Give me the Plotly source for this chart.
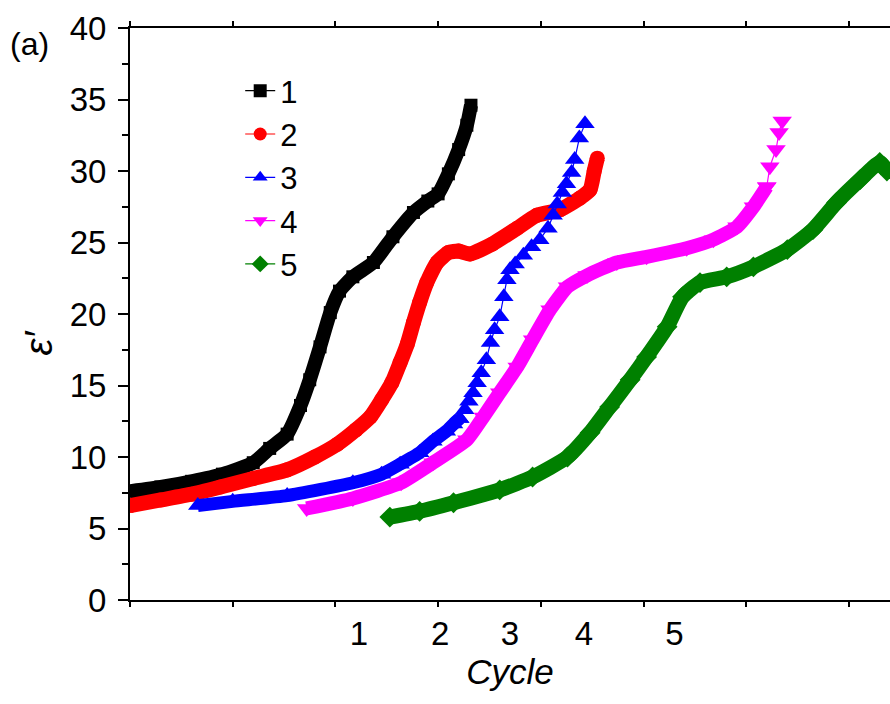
import plotly.graph_objects as go

# ---------------- data ----------------
cycle_labels = ["1", "2", "3", "4", "5"]
cycle_label_pos = [2.23, 3.02, 3.70, 4.42, 5.30]
series_names = ["1", "2", "3", "4", "5"]

s1_x = [0.00, 0.30, 0.60, 0.90, 1.20, 1.36, 1.53, 1.66, 1.75, 1.85, 1.95, 2.04, 2.17,
        2.37, 2.56, 2.76, 2.90, 3.00, 3.10, 3.20, 3.28, 3.32]
s1_y = [7.6, 7.9, 8.3, 8.8, 9.6, 10.6, 11.6, 13.6, 15.4, 17.7, 20.1, 21.6, 22.6,
        23.6, 25.4, 27.1, 27.9, 28.4, 29.8, 31.5, 33.2, 34.6]

s2_x = [0.00, 0.30, 0.60, 0.88, 1.20, 1.53, 1.80, 2.02, 2.20, 2.34, 2.45, 2.55, 2.63,
        2.70, 2.76, 2.82, 2.89, 2.99, 3.10, 3.20, 3.31, 3.53, 3.77, 3.96, 4.19, 4.38,
        4.48, 4.52, 4.55]
s2_y = [6.6, 7.0, 7.4, 7.9, 8.5, 9.1, 10.0, 10.9, 11.9, 12.8, 14.0, 15.2, 16.6,
        17.9, 19.4, 20.8, 22.2, 23.6, 24.3, 24.4, 24.2, 24.9, 26.0, 26.9, 27.3, 28.1,
        28.7, 30.0, 30.9]

s3_x = [0.66, 1.00, 1.53, 2.17, 2.45, 2.63, 2.82, 2.95, 3.08, 3.15, 3.21, 3.26, 3.30,
        3.34, 3.38, 3.42, 3.47, 3.51, 3.55, 3.60, 3.64, 3.67, 3.70, 3.75, 3.83, 3.91,
        3.99, 4.07, 4.12, 4.16, 4.21, 4.25, 4.30, 4.33, 4.375, 4.43]
s3_y = [6.6, 6.9, 7.3, 8.2, 8.8, 9.5, 10.3, 11.1, 11.8, 12.3, 12.7, 13.3, 13.9,
        14.5, 15.2, 15.9, 16.8, 18.0, 18.9, 19.8, 21.2, 22.4, 23.1, 23.5, 24.1, 24.7,
        25.2, 26.0, 26.9, 27.7, 28.5, 29.1, 29.9, 30.8, 32.3, 33.3]

s4_x = [1.72, 2.17, 2.64, 2.95, 3.28, 3.44, 3.60, 3.77, 3.92, 4.09, 4.26, 4.45, 4.74,
        5.03, 5.42, 5.68, 5.91, 6.07, 6.20, 6.23, 6.29, 6.32, 6.35]
s4_y = [6.4, 7.1, 8.2, 9.6, 11.2, 12.8, 14.5, 16.3, 18.2, 20.3, 21.9, 22.7, 23.6,
        24.0, 24.6, 25.2, 26.1, 27.5, 28.9, 30.3, 31.5, 32.7, 33.5]

s5_x = [2.53, 2.82, 3.15, 3.60, 3.92, 4.26, 4.48, 4.67, 4.87, 5.03, 5.23, 5.38, 5.55,
        5.81, 6.07, 6.40, 6.65, 6.88, 7.11, 7.30, 7.37]
s5_y = [5.8, 6.2, 6.8, 7.7, 8.6, 10.0, 11.7, 13.5, 15.4, 17.0, 19.1, 21.2, 22.2,
        22.6, 23.3, 24.5, 25.9, 27.8, 29.4, 30.6, 30.0]

# ---------------- styles ----------------
styles = [
    dict(color="#000000", symbol="square", size=13, band=14, sparse_from=None),
    dict(color="#FF0000", symbol="circle", size=15, band=15, sparse_from=None),
    dict(color="#0000FF", symbol="triangle-up", size=17, band=13, sparse_from=10),
    dict(color="#FF00FF", symbol="triangle-down", size=17, band=14, sparse_from=18),
    dict(color="#008000", symbol="diamond", size=16, band=15, sparse_from=None),
]
data = [(s1_x, s1_y), (s2_x, s2_y), (s3_x, s3_y), (s4_x, s4_y), (s5_x, s5_y)]

fig = go.Figure()
for i, ((xs, ys), st) in enumerate(zip(data, styles)):
    k = st["sparse_from"]
    bx, by = (xs, ys) if k is None else (xs[:k + 1], ys[:k + 1])
    fig.add_trace(go.Scatter(
        x=bx, y=by, mode="lines+markers", showlegend=False,
        line=dict(color=st["color"], width=st["band"], shape="spline", smoothing=0.5),
        marker=dict(symbol=st["symbol"], size=st["size"], color=st["color"]),
        hoverinfo="skip"))
    if k is not None:
        fig.add_trace(go.Scatter(
            x=xs[k:], y=ys[k:], mode="lines+markers", showlegend=False,
            line=dict(color=st["color"], width=1.2),
            marker=dict(symbol=st["symbol"], size=st["size"], color=st["color"]),
            hoverinfo="skip"))
    fig.add_trace(go.Scatter(
        x=[None], y=[None], mode="lines+markers", name=series_names[i],
        legendgroup="g%d" % i,
        line=dict(color=st["color"], width=1.2),
        marker=dict(symbol=st["symbol"], size=13, color=st["color"])))

FONT = "Liberation Sans, Arial, sans-serif"
fig.update_layout(
    width=890, height=704,
    margin=dict(l=130, r=0, t=28, b=104),
    plot_bgcolor="white", paper_bgcolor="white",
    font=dict(family=FONT, size=33, color="black"),
    showlegend=True,
    legend=dict(x=0.145, y=0.937, xanchor="left", yanchor="top",
                bgcolor="rgba(0,0,0,0)", font=dict(size=31),
                tracegroupgap=0, itemsizing="trace"),
)
fig.update_xaxes(
    range=[0, 7.4], showline=True, linewidth=2, linecolor="black", mirror="ticks",
    showgrid=False, zeroline=False,
    tickmode="array", tickvals=cycle_label_pos, ticktext=cycle_labels,
    ticks="", ticklabelstandoff=3, tickfont=dict(size=33),
    minor=dict(tickmode="linear", tick0=0, dtick=1, ticks="outside", ticklen=5,
               tickwidth=2, tickcolor="black", showgrid=False),
    title=dict(text="<i>Cycle</i>", font=dict(size=35), standoff=4),
)
fig.update_yaxes(
    range=[0, 40], tickmode="linear", tick0=0, dtick=5,
    ticks="outside", ticklen=10, tickwidth=2, tickcolor="black",
    showline=True, linewidth=2, linecolor="black", mirror=False,
    showgrid=False, zeroline=False, ticklabelstandoff=5, tickfont=dict(size=33),
    minor=dict(dtick=2.5, ticks="outside", ticklen=6, tickwidth=2, tickcolor="black",
               showgrid=False),
)
fig.add_annotation(text="<i>ε′</i>", xref="paper", yref="paper", x=-0.12, y=0.45,
                   xanchor="center", yanchor="middle", textangle=-90, showarrow=False,
                   font=dict(size=38, family=FONT))
fig.add_annotation(text="(a)", xref="paper", yref="paper", x=-0.16, y=0.972,
                   xanchor="left", yanchor="middle", showarrow=False,
                   font=dict(size=32, family=FONT))

fig.write_html("out.html",
               config={"displayModeBar": False},
               post_script="document.body.style.margin='0';"
                           "document.body.style.overflow='hidden';")
